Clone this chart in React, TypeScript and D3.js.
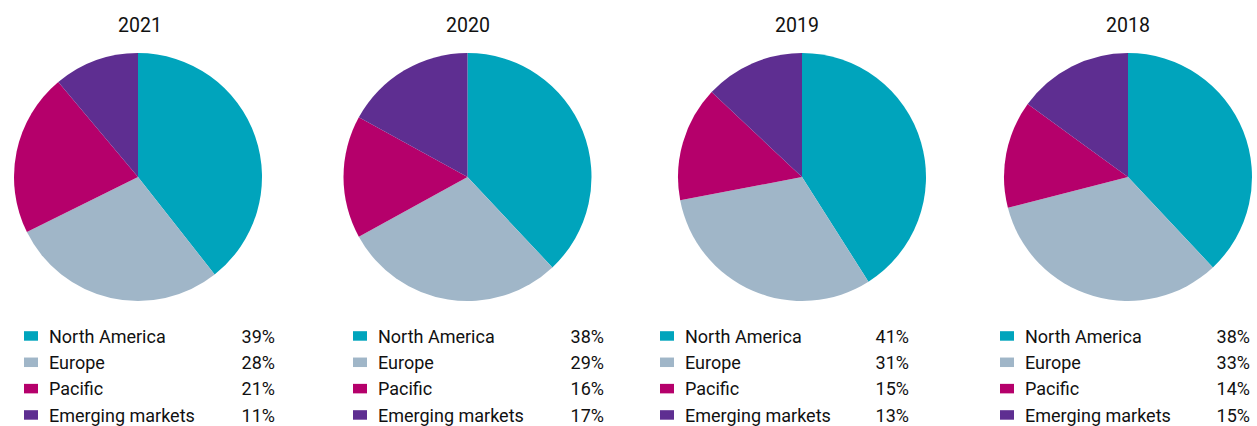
import React from "react";
import * as d3 from "d3";

const years = ["2021", "2020", "2019", "2018"];
const regions = ["North America", "Europe", "Pacific", "Emerging markets"];
const colors = ["#00A4BC", "#A0B6C8", "#B5006B", "#5E2E91"];
const values2021 = [39, 28, 21, 11];
const values2020 = [38, 29, 16, 17];
const values2019 = [41, 31, 15, 13];
const values2018 = [38, 33, 14, 15];
const seriesValues = [values2021, values2020, values2019, values2018];

const W = 1257;
const H = 426;
const pieCenters = [138, 467.5, 802, 1128];
const titleCenters = [140, 468, 797, 1128];
const legendLeft = [24, 353, 660, 1000];
const legendRight = [275, 604, 909, 1250];
const cy = 177;
const radius = 124;
const font = "Roboto, 'Noto Sans', sans-serif";

export default function App() {
  const pie = d3.pie<number>().sort(null).value((d) => d);
  const arc = d3.arc<d3.PieArcDatum<number>>().innerRadius(0).outerRadius(radius);
  const rowY = d3.scaleLinear().domain([0, 3]).range([342.7, 421.7]);

  return (
    <svg
      width={W}
      height={H}
      style={{ position: "absolute", left: 0, top: 0, background: "#fff" }}
    >
      {years.map((year, i) => {
        const arcs = pie(seriesValues[i]);
        return (
          <g key={year}>
            <text
              x={titleCenters[i]}
              y={32}
              textAnchor="middle"
              fontFamily={font}
              fontSize={19.5}
              fill="#111"
            >
              {year}
            </text>
            <g transform={`translate(${pieCenters[i]},${cy})`}>
              {arcs.map((a, j) => (
                <path key={j} d={arc(a) || ""} fill={colors[j]} />
              ))}
            </g>
            {regions.map((r, j) => {
              const y = rowY(j);
              return (
                <g key={r}>
                  <rect
                    x={legendLeft[i]}
                    y={y - 11.5}
                    width={14}
                    height={9.5}
                    fill={colors[j]}
                  />
                  <text
                    x={legendLeft[i] + 25}
                    y={y}
                    fontFamily={font}
                    fontSize={18}
                    fill="#111"
                  >
                    {r}
                  </text>
                  <text
                    x={legendRight[i]}
                    y={y}
                    textAnchor="end"
                    fontFamily={font}
                    fontSize={18}
                    fill="#111"
                  >
                    {`${seriesValues[i][j]}%`}
                  </text>
                </g>
              );
            })}
          </g>
        );
      })}
    </svg>
  );
}
